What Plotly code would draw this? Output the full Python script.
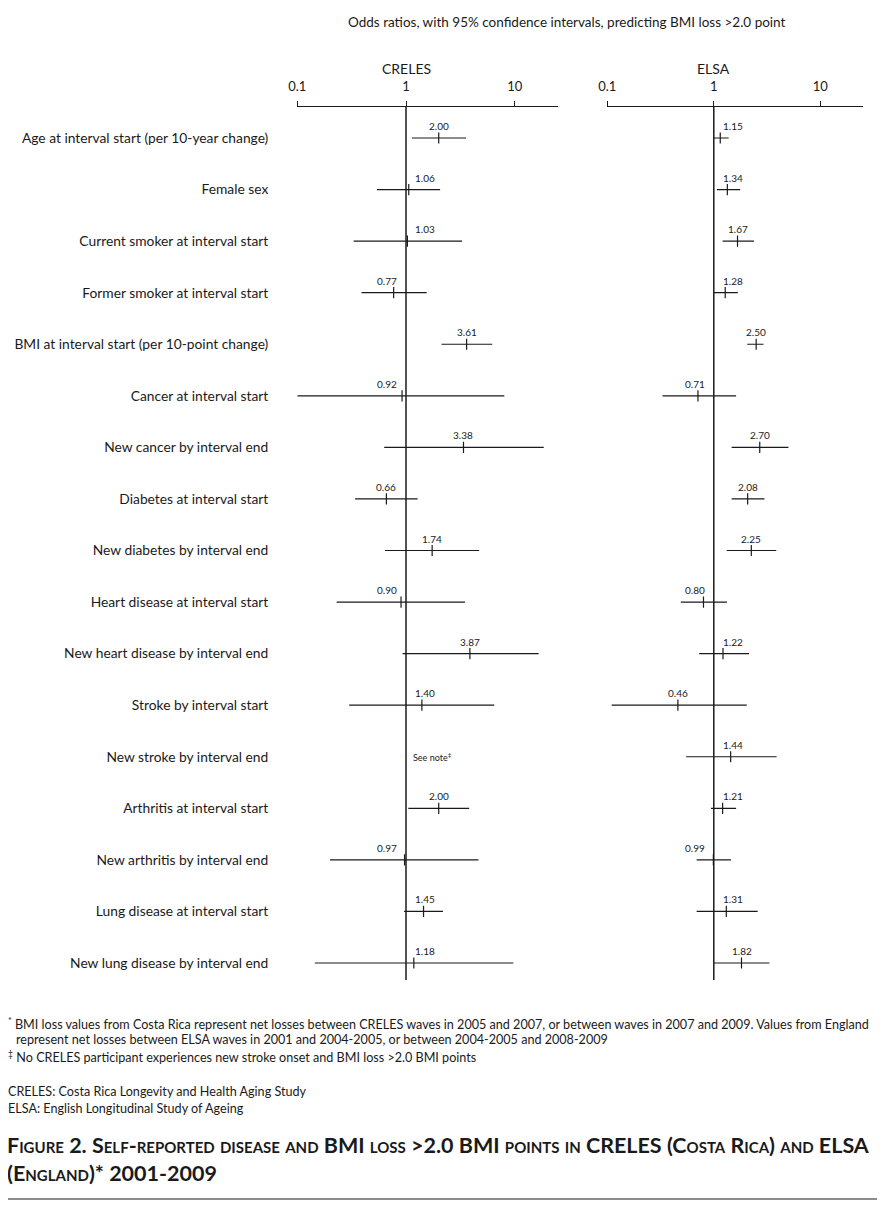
import math
import plotly.graph_objects as go

# ---------------- data ----------------
row_labels = [
    "Age at interval start (per 10-year change)",
    "Female sex",
    "Current smoker at interval start",
    "Former smoker at interval start",
    "BMI at interval start (per 10-point change)",
    "Cancer at interval start",
    "New cancer by interval end",
    "Diabetes at interval start",
    "New diabetes by interval end",
    "Heart disease at interval start",
    "New heart disease by interval end",
    "Stroke by interval start",
    "New stroke by interval end",
    "Arthritis at interval start",
    "New arthritis by interval end",
    "Lung disease at interval start",
    "New lung disease by interval end",
]

creles_or = [2.00, 1.06, 1.03, 0.77, 3.61, 0.92, 3.38, 0.66, 1.74, 0.90, 3.87, 1.40, None, 2.00, 0.97, 1.45, 1.18]
creles_lo = [1.13, 0.54, 0.33, 0.39, 2.12, 0.10, 0.63, 0.34, 0.64, 0.23, 0.93, 0.30, None, 1.05, 0.20, 0.96, 0.145]
creles_hi = [3.57, 2.06, 3.28, 1.55, 6.21, 8.03, 18.5, 1.28, 4.71, 3.49, 16.6, 6.49, None, 3.81, 4.64, 2.19, 9.72]

elsa_or = [1.15, 1.34, 1.67, 1.28, 2.50, 0.71, 2.70, 2.08, 2.25, 0.80, 1.22, 0.46, 1.44, 1.21, 0.99, 1.31, 1.82]
elsa_lo = [0.99, 1.07, 1.21, 1.00, 2.06, 0.33, 1.47, 1.47, 1.32, 0.49, 0.73, 0.11, 0.55, 0.94, 0.69, 0.69, 1.00]
elsa_hi = [1.38, 1.77, 2.38, 1.68, 2.93, 1.62, 5.02, 2.99, 3.86, 1.33, 2.14, 2.04, 3.89, 1.62, 1.45, 2.58, 3.33]

tick_vals = [0.1, 1, 10]
tick_text = ["0.1", "1", "10"]
reference_or = 1

# ---------------- layout geometry ----------------
PAGE_OFF = 8                      # default body margin of the html page
W, H = 888 - 2 * PAGE_OFF, 1209 - 2 * PAGE_OFF
FONT = "Lato, 'Open Sans', sans-serif"
INK = "#1a1a1a"

def px_x(p):
    return (p - PAGE_OFF) / W

def px_y(p):
    return 1 - (p - PAGE_OFF) / H

x_range = [-1, 1.4]
creles_dom = [297.3, 297.3 + 2.4 * 108.7]
elsa_dom = [607.3, 607.3 + 2.4 * 106.5]
ppd = {"x": 108.7, "x2": 106.5}

plot_top, plot_bot = 107, 980
row_first, row_last = 138, 963
step = (row_last - row_first) / (len(row_labels) - 1)
y_rng = [len(row_labels) - 1 + (plot_bot - row_last) / step, -(row_first - plot_top) / step]

fig = go.Figure()

def add_panel(orv, lo, hi, xa):
    # reference line at OR = 1
    fig.add_trace(go.Scatter(
        x=[reference_or, reference_or], y=y_rng, mode="lines", xaxis=xa, yaxis="y",
        line=dict(color=INK, width=1.5), cliponaxis=False,
        showlegend=False, hoverinfo="skip"))
    idx = [i for i, v in enumerate(orv) if v is not None]
    xs = [orv[i] for i in idx]
    fig.add_trace(go.Scatter(
        x=xs, y=idx, mode="markers", xaxis=xa, yaxis="y",
        marker=dict(symbol="line-ns", size=8, color=INK, line=dict(width=1.2, color=INK)),
        error_x=dict(type="data", symmetric=False,
                     array=[hi[i] - orv[i] for i in idx],
                     arrayminus=[orv[i] - lo[i] for i in idx],
                     width=0, thickness=1.2, color=INK),
        showlegend=False, hoverinfo="skip"))
    gap = 19 / ppd[xa]
    for i in idx:
        lv = math.log10(orv[i])
        lx = max(lv, gap) if orv[i] >= 1 else min(lv, -gap)
        fig.add_annotation(x=lx, y=i, xref=xa, yref="y", text=f"{orv[i]:.2f}",
                           showarrow=False, yshift=12, xanchor="center",
                           font=dict(family=FONT, size=10, color=INK))

add_panel(creles_or, creles_lo, creles_hi, "x")
add_panel(elsa_or, elsa_lo, elsa_hi, "x2")

# note for missing CRELES row
for i, v in enumerate(creles_or):
    if v is None:
        fig.add_annotation(x=0, y=i, xref="x", yref="y", text="See note<sup>‡</sup>",
                           showarrow=False, xanchor="left", xshift=5,
                           font=dict(family=FONT, size=9, color=INK))

axis_common = dict(type="log", range=x_range, side="top", showline=True, linecolor=INK,
                   linewidth=1, ticks="outside", ticklen=5, tickwidth=1, tickcolor=INK,
                   tickvals=tick_vals, ticktext=tick_text, showgrid=False, zeroline=False,
                   ticklabelstandoff=5, automargin=False,
                   tickfont=dict(family=FONT, size=13, color=INK))

fig.update_layout(
    template="none",
    width=W, height=H, margin=dict(l=0, r=0, t=0, b=0, pad=0, autoexpand=False),
    paper_bgcolor="white", plot_bgcolor="white",
    xaxis=dict(domain=[px_x(creles_dom[0]), px_x(creles_dom[1])], anchor="y", **axis_common),
    xaxis2=dict(domain=[px_x(elsa_dom[0]), px_x(elsa_dom[1])], anchor="y", **axis_common),
    yaxis=dict(domain=[px_y(plot_bot), px_y(plot_top)], range=y_rng, showgrid=False,
               zeroline=False, showline=False, ticks="", automargin=False,
               tickvals=list(range(len(row_labels))), ticktext=row_labels,
               ticklabelstandoff=28,
               tickfont=dict(family=FONT, size=13.8, color=INK)),
)

# panel titles
for xa, name in [("x", "CRELES"), ("x2", "ELSA")]:
    fig.add_annotation(x=0, y=px_y(68), xref=xa, yref="paper", text=name, showarrow=False,
                       xanchor="center", yanchor="middle",
                       font=dict(family=FONT, size=14, color=INK))

fig.add_annotation(x=px_x(567), y=px_y(22), xref="paper", yref="paper",
                   text="Odds ratios, with 95% confidence intervals, predicting BMI loss >2.0 point",
                   showarrow=False, xanchor="center", yanchor="middle",
                   font=dict(family=FONT, size=13.5, color=INK))

notes = [
    (1023, 6, "<sup>*</sup> BMI loss values from Costa Rica represent net losses between CRELES waves in 2005 and 2007, or between waves in 2007 and 2009. Values from England"),
    (1039, 14, "represent net losses between ELSA waves in 2001 and 2004-2005, or between 2004-2005 and 2008-2009"),
    (1056, 6, "<sup>‡</sup> No CRELES participant experiences new stroke onset and BMI loss >2.0 BMI points"),
    (1091, 6, "CRELES: Costa Rica Longevity and Health Aging Study"),
    (1108, 6, "ELSA: English Longitudinal Study of Ageing"),
]
for yy, xx, t in notes:
    fig.add_annotation(x=px_x(xx), y=px_y(yy), xref="paper", yref="paper", text=t,
                       showarrow=False, xanchor="left", yanchor="middle",
                       font=dict(family=FONT, size=12.6, color=INK))

fig.add_annotation(x=px_x(5), y=px_y(1159), xref="paper", yref="paper",
                   text="<b>Figure 2. Self-reported disease and BMI loss >2.0 BMI points in CRELES (Costa Rica) and ELSA<br>(England)* 2001-2009</b>",
                   showarrow=False, xanchor="left", yanchor="middle", align="left",
                   font=dict(family=FONT, size=21.5, color=INK, variant="small-caps"))

fig.add_shape(type="line", xref="paper", yref="paper", x0=px_x(6), x1=px_x(877),
              y0=px_y(1199), y1=px_y(1199), line=dict(color=INK, width=1))

fig.write_html("out.html")
